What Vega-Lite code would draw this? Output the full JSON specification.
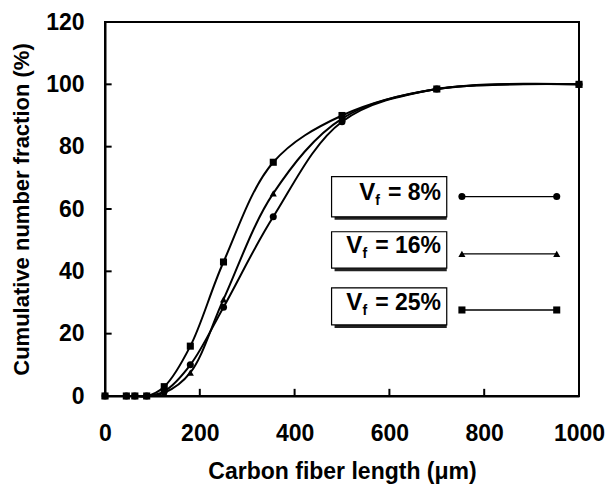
{
  "$schema": "https://vega.github.io/schema/vega-lite/v6.json",
  "width": 474,
  "height": 374,
  "autosize": "none",
  "padding": {"left": 105, "top": 22, "right": 36, "bottom": 92},
  "background": "white",
  "config": {
    "view": {"stroke": "black", "strokeWidth": 2},
    "font": "Liberation Sans",
    "axis": {
      "grid": false,
      "domainColor": "black",
      "domainWidth": 2,
      "ticks": false,
      "labelFont": "Liberation Sans",
      "labelFontWeight": "bold",
      "labelFontSize": 23,
      "labelColor": "black",
      "titleFont": "Liberation Sans",
      "titleFontWeight": "bold",
      "titleColor": "black"
    }
  },
  "datasets": {
    "curves": [
      {"len": 0, "frac": 0, "vf": "8%"},
      {"len": 45, "frac": 0, "vf": "8%"},
      {"len": 63, "frac": 0, "vf": "8%"},
      {"len": 88, "frac": 0, "vf": "8%"},
      {"len": 125, "frac": 1.5, "vf": "8%"},
      {"len": 180, "frac": 10, "vf": "8%"},
      {"len": 250, "frac": 28.5, "vf": "8%"},
      {"len": 355, "frac": 57.5, "vf": "8%"},
      {"len": 500, "frac": 88, "vf": "8%"},
      {"len": 700, "frac": 98.5, "vf": "8%"},
      {"len": 1000, "frac": 100, "vf": "8%"},
      {"len": 0, "frac": 0, "vf": "16%"},
      {"len": 45, "frac": 0, "vf": "16%"},
      {"len": 63, "frac": 0, "vf": "16%"},
      {"len": 88, "frac": 0, "vf": "16%"},
      {"len": 125, "frac": 1, "vf": "16%"},
      {"len": 180, "frac": 7.5, "vf": "16%"},
      {"len": 250, "frac": 31, "vf": "16%"},
      {"len": 355, "frac": 65, "vf": "16%"},
      {"len": 500, "frac": 89, "vf": "16%"},
      {"len": 700, "frac": 98.5, "vf": "16%"},
      {"len": 1000, "frac": 100, "vf": "16%"},
      {"len": 0, "frac": 0, "vf": "25%"},
      {"len": 45, "frac": 0, "vf": "25%"},
      {"len": 63, "frac": 0, "vf": "25%"},
      {"len": 88, "frac": 0, "vf": "25%"},
      {"len": 125, "frac": 3, "vf": "25%"},
      {"len": 180, "frac": 16, "vf": "25%"},
      {"len": 250, "frac": 43, "vf": "25%"},
      {"len": 355, "frac": 75, "vf": "25%"},
      {"len": 500, "frac": 90, "vf": "25%"},
      {"len": 700, "frac": 98.5, "vf": "25%"},
      {"len": 1000, "frac": 100, "vf": "25%"}
    ],
    "boxes": [
      {"vf": "8%", "bx1": 478, "bx2": 721, "by1": 57.5, "by2": 70.4, "vx": 570, "eqx": 709, "ty": 62.9, "label": "= 8%"},
      {"vf": "16%", "bx1": 478, "bx2": 721, "by1": 41.0, "by2": 52.7, "vx": 543, "eqx": 709, "ty": 45.9, "label": "= 16%"},
      {"vf": "25%", "bx1": 478, "bx2": 721, "by1": 22.8, "by2": 34.7, "vx": 543, "eqx": 709, "ty": 27.6, "label": "= 25%"}
    ],
    "keylines": [
      {"vf": "8%", "lx": 753, "ly": 64},
      {"vf": "8%", "lx": 953, "ly": 64},
      {"vf": "16%", "lx": 753, "ly": 45.6},
      {"vf": "16%", "lx": 953, "ly": 45.6},
      {"vf": "25%", "lx": 753, "ly": 27.6},
      {"vf": "25%", "lx": 953, "ly": 27.6}
    ],
    "xticks": [
      {"t": 200, "lo": 0, "hi": 2.3},
      {"t": 400, "lo": 0, "hi": 2.3},
      {"t": 600, "lo": 0, "hi": 2.3},
      {"t": 800, "lo": 0, "hi": 2.3}
    ],
    "yticks": [
      {"t": 20, "lo": 0, "hi": 14},
      {"t": 40, "lo": 0, "hi": 14},
      {"t": 60, "lo": 0, "hi": 14},
      {"t": 80, "lo": 0, "hi": 14},
      {"t": 100, "lo": 0, "hi": 14}
    ]
  },
  "layer": [
    {
      "data": {"name": "curves"},
      "mark": {"type": "line", "interpolate": "catmull-rom", "color": "black", "strokeWidth": 2},
      "encoding": {
        "x": {
          "field": "len", "type": "quantitative",
          "scale": {"domain": [0, 1000], "nice": false},
          "axis": {"values": [0, 200, 400, 600, 800, 1000], "format": "d", "title": "Carbon fiber length (μm)", "titleFontSize": 23, "labelPadding": 26, "titlePadding": 15, "labelFlush": false}
        },
        "y": {
          "field": "frac", "type": "quantitative",
          "scale": {"domain": [0, 120], "nice": false},
          "axis": {"values": [0, 20, 40, 60, 80, 100, 120], "title": "Cumulative number fraction (%)", "titleFontSize": 22, "labelPadding": 21, "titlePadding": 12}
        },
        "detail": {"field": "vf"}
      }
    },
    {
      "data": {"name": "xticks"},
      "mark": {"type": "rule", "color": "black", "strokeWidth": 2},
      "encoding": {
        "x": {"field": "t", "type": "quantitative"},
        "y": {"field": "lo", "type": "quantitative"},
        "y2": {"field": "hi"}
      }
    },
    {
      "data": {"name": "yticks"},
      "mark": {"type": "rule", "color": "black", "strokeWidth": 2},
      "encoding": {
        "y": {"field": "t", "type": "quantitative"},
        "x": {"field": "lo", "type": "quantitative"},
        "x2": {"field": "hi"}
      }
    },
    {
      "data": {"name": "curves"},
      "mark": {"type": "point", "filled": true, "color": "black", "opacity": 1, "size": 50},
      "encoding": {
        "x": {"field": "len", "type": "quantitative"},
        "y": {"field": "frac", "type": "quantitative"},
        "shape": {
          "field": "vf", "type": "nominal",
          "scale": {"domain": ["8%", "16%", "25%"], "range": ["circle", "triangle-up", "square"]},
          "legend": null
        }
      }
    },
    {
      "data": {"name": "boxes"},
      "mark": {"type": "rect", "fill": "#222", "xOffset": 3, "yOffset": 3},
      "encoding": {
        "x": {"field": "bx1", "type": "quantitative"},
        "x2": {"field": "bx2"},
        "y": {"field": "by1", "type": "quantitative"},
        "y2": {"field": "by2"}
      }
    },
    {
      "data": {"name": "boxes"},
      "mark": {"type": "rect", "fill": "white", "stroke": "black", "strokeWidth": 1.2},
      "encoding": {
        "x": {"field": "bx1", "type": "quantitative"},
        "x2": {"field": "bx2"},
        "y": {"field": "by1", "type": "quantitative"},
        "y2": {"field": "by2"}
      }
    },
    {
      "data": {"name": "boxes"},
      "mark": {"type": "text", "align": "right", "baseline": "alphabetic", "fontSize": 23, "fontWeight": "bold", "font": "Liberation Sans", "color": "black"},
      "encoding": {
        "x": {"field": "eqx", "type": "quantitative"},
        "y": {"field": "ty", "type": "quantitative"},
        "text": {"field": "label"}
      }
    },
    {
      "data": {"name": "boxes"},
      "mark": {"type": "text", "align": "right", "baseline": "alphabetic", "fontSize": 24, "fontWeight": "bold", "font": "Liberation Sans", "color": "black"},
      "encoding": {
        "x": {"field": "vx", "type": "quantitative"},
        "y": {"field": "ty", "type": "quantitative"},
        "text": {"value": "V"}
      }
    },
    {
      "data": {"name": "boxes"},
      "mark": {"type": "text", "align": "left", "baseline": "alphabetic", "fontSize": 14, "fontWeight": "bold", "font": "Liberation Sans", "color": "black", "yOffset": 5},
      "encoding": {
        "x": {"field": "vx", "type": "quantitative"},
        "y": {"field": "ty", "type": "quantitative"},
        "text": {"value": "f"}
      }
    },
    {
      "data": {"name": "keylines"},
      "mark": {"type": "line", "color": "black", "strokeWidth": 1.3},
      "encoding": {
        "x": {"field": "lx", "type": "quantitative"},
        "y": {"field": "ly", "type": "quantitative"},
        "detail": {"field": "vf"}
      }
    },
    {
      "data": {"name": "keylines"},
      "mark": {"type": "point", "filled": true, "color": "black", "opacity": 1, "size": 50},
      "encoding": {
        "x": {"field": "lx", "type": "quantitative"},
        "y": {"field": "ly", "type": "quantitative"},
        "shape": {"field": "vf", "type": "nominal", "legend": null}
      }
    }
  ]
}
